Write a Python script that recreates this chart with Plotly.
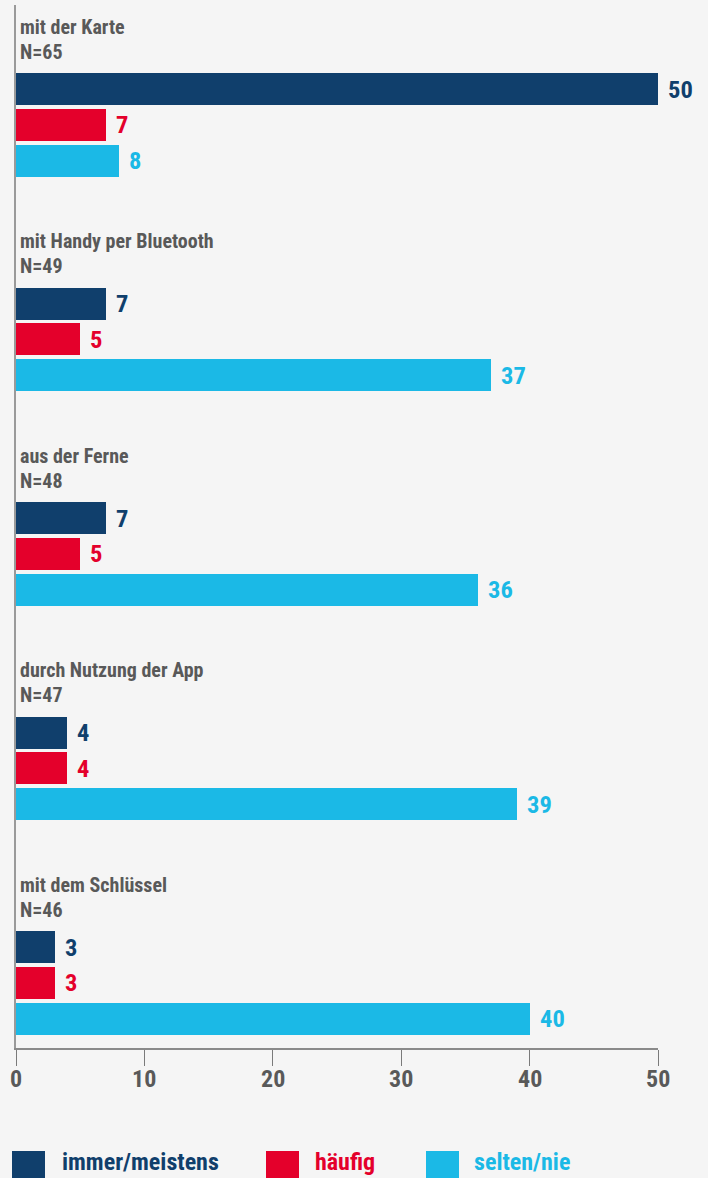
import plotly.graph_objects as go

categories = ["mit der Karte", "mit Handy per Bluetooth", "aus der Ferne",
              "durch Nutzung der App", "mit dem Schlüssel"]
n_values = [65, 49, 48, 47, 46]
series_names = ["immer/meistens", "häufig", "selten/nie"]
immer = [50, 7, 7, 4, 3]
haeufig = [7, 5, 5, 4, 3]
selten = [8, 37, 36, 39, 40]
tick_vals = [0, 10, 20, 30, 40, 50]

colors = ["#103f6c", "#e4002b", "#1bb9e6"]
series = [immer, haeufig, selten]
FONT = "Roboto Condensed, Liberation Sans Narrow, DejaVu Sans Condensed, Arial Narrow, Roboto, sans-serif"
GRAY = "#595959"

# plot area in pixels
PL, PR, PT, PB = 16, 658, 5, 1048
W, H = 708, 1178


def px_x(px):
    return (px - PL) / (PR - PL)


def px_y(py):
    return (PB - py) / (PB - PT)


SLOTS = 6
fig = go.Figure()
annotations = []
for si, vals in enumerate(series):
    ys = [g * SLOTS + si for g in range(len(categories))]
    fig.add_trace(go.Bar(
        x=vals, y=ys, orientation="h", width=0.895,
        marker=dict(color=colors[si], line=dict(width=0)),
        name=series_names[si], showlegend=False, hoverinfo="x",
    ))
    for v, y in zip(vals, ys):
        annotations.append(dict(
            x=v, y=y, xref="x", yref="y", text=str(v), showarrow=False,
            xanchor="left", yanchor="middle", xshift=8,
            font=dict(family=FONT, size=24.5, color=colors[si], weight=700),
        ))

for g, (cat, n) in enumerate(zip(categories, n_values)):
    annotations.append(dict(
        x=0, y=g * SLOTS - 1.74, xref="x", yref="y", text=cat, showarrow=False,
        xanchor="left", yanchor="middle", xshift=2,
        font=dict(family=FONT, size=20, color=GRAY, weight=700),
    ))
    annotations.append(dict(
        x=0, y=g * SLOTS - 1.04, xref="x", yref="y", text=f"N={n}", showarrow=False,
        xanchor="left", yanchor="middle", xshift=2,
        font=dict(family=FONT, size=20, color=GRAY, weight=700),
    ))

# x tick labels (placed a bit closer to the tick marks than plotly's default)
for tv in tick_vals:
    annotations.append(dict(
        x=tv, y=px_y(1079), xref="x", yref="paper", text=str(tv), showarrow=False,
        xanchor="center", yanchor="middle",
        font=dict(family=FONT, size=24, color=GRAY, weight=700),
    ))

# custom legend
shapes = []
legend_x = [12, 266, 426]
legend_text_x = [60, 313, 472]
for i, name in enumerate(series_names):
    shapes.append(dict(
        type="rect", xref="paper", yref="paper",
        x0=px_x(legend_x[i]), x1=px_x(legend_x[i] + 33),
        y0=px_y(1184), y1=px_y(1151),
        fillcolor=colors[i], line=dict(width=0),
    ))
    annotations.append(dict(
        x=px_x(legend_text_x[i]), y=px_y(1162), xref="paper", yref="paper",
        text=name, showarrow=False, xanchor="left", yanchor="middle",
        font=dict(family=FONT, size=24, color=colors[i], weight=700),
    ))

fig.update_layout(
    width=W, height=H,
    margin=dict(l=PL, r=W - PR, t=PT, b=H - PB),
    paper_bgcolor="#f5f5f5", plot_bgcolor="#f5f5f5",
    bargap=0, barmode="overlay",
    annotations=annotations, shapes=shapes,
    xaxis=dict(
        range=[0, 50], tickvals=tick_vals, showticklabels=False,
        showgrid=False, zeroline=False,
        showline=True, linecolor="#8a8a8a", linewidth=1.5,
        ticks="outside", ticklen=16, tickcolor="#7a7a7a", tickwidth=1,
        fixedrange=True,
    ),
    yaxis=dict(
        range=[26.825, -2.35], showticklabels=False, showgrid=False,
        zeroline=False, showline=True, linecolor="#9a9a9a", linewidth=2,
        ticks="", fixedrange=True,
    ),
    showlegend=False,
)

fig.write_html("out.html")
